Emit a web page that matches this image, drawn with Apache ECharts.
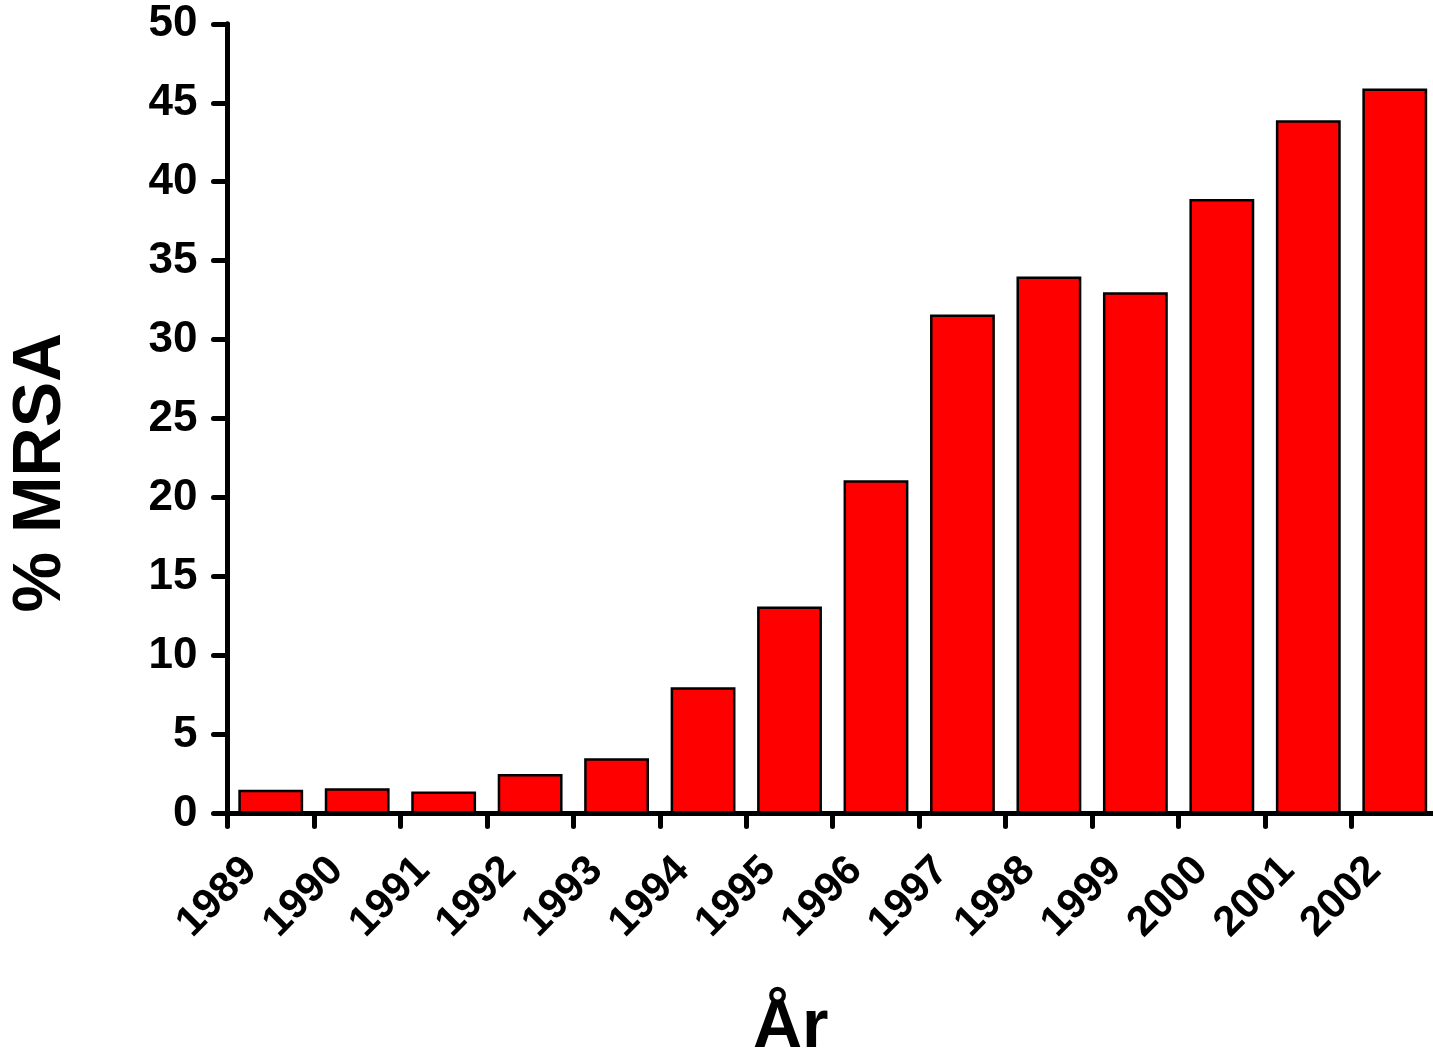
<!DOCTYPE html>
<html>
<head>
<meta charset="utf-8">
<script src="https://cdn.jsdelivr.net/npm/echarts@6/dist/echarts.min.js"></script>
<style>
html,body{margin:0;padding:0;background:#fff;overflow:hidden;width:100%;height:100%;}
#chart{width:1433px;height:1056px;overflow:hidden;}
</style>
</head>
<body>
<div id="chart"></div>
<script>
const years = ['1989','1990','1991','1992','1993','1994','1995','1996','1997','1998','1999','2000','2001','2002'];
const mrsaPercent = [1.5, 1.6, 1.4, 2.5, 3.5, 8.0, 13.1, 21.1, 31.6, 34.0, 33.0, 38.9, 43.9, 45.9];
const yAxisTitle = '% MRSA';
const xAxisTitle = 'År';

const FONT = '"Liberation Sans", Arial, sans-serif';
const chart = echarts.init(document.getElementById('chart'));
chart.setOption({
  backgroundColor: '#ffffff',
  animation: false,
  grid: { left: 227.5, top: 23.8, bottom: 242.5, right: -5, containLabel: false, outerBoundsMode: 'none' },
  xAxis: {
    type: 'category',
    data: years,
    name: xAxisTitle,
    nameLocation: 'middle',
    nameGap: 181,
    nameTextStyle: { fontFamily: FONT, fontWeight: 'bold', fontSize: 68, color: '#000', padding: [0, 84, 0, 0] },
    axisLine: { lineStyle: { color: '#000', width: 5 } },
    axisTick: { show: true, length: 13, lineStyle: { color: '#000', width: 5, cap: 'round' } },
    axisLabel: { rotate: 45, margin: 30, padding: [0, 29, 0, 0], fontFamily: FONT, fontWeight: 'bold', fontSize: 42, color: '#000' },
    splitLine: { show: false }
  },
  yAxis: {
    type: 'value',
    min: 0, max: 50, interval: 5,
    name: yAxisTitle,
    nameLocation: 'middle',
    nameRotate: 90,
    nameGap: 152,
    nameTextStyle: { fontFamily: FONT, fontWeight: 'bold', fontSize: 68, color: '#000', padding: [0, 108, 0, 0] },
    axisLine: { show: true, lineStyle: { color: '#000', width: 5 } },
    axisTick: { show: true, length: 14, lineStyle: { color: '#000', width: 5, cap: 'round' } },
    axisLabel: { margin: 30, fontFamily: FONT, fontWeight: 'bold', fontSize: 44, color: '#000' },
    splitLine: { show: false }
  },
  series: [{
    type: 'bar',
    data: mrsaPercent,
    barCategoryGap: '25%',
    itemStyle: { color: '#ff0000', borderColor: '#000', borderWidth: 2.5 },
    z: 1
  }]
});
</script>
</body>
</html>
